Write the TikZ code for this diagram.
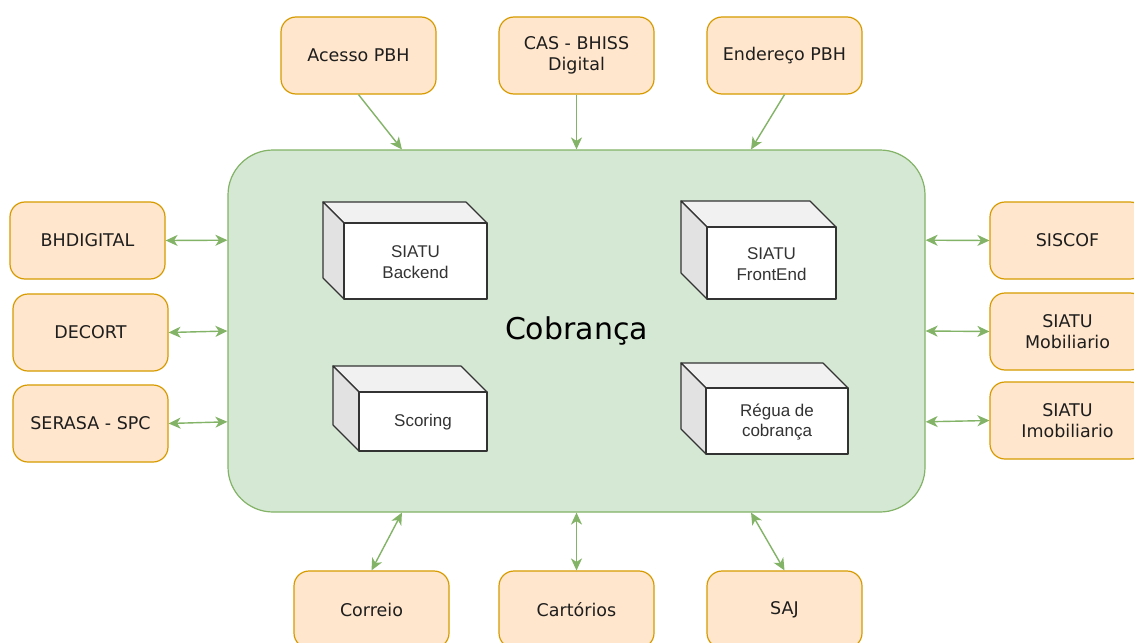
\documentclass[tikz,border=0pt]{standalone}
\usepackage{fontspec}
\setmainfont{DejaVu Sans}
\newfontfamily\arialf{Liberation Sans}
\usetikzlibrary{arrows.meta,calc}
\definecolor{orfill}{HTML}{FFE6CC}
\definecolor{ordraw}{HTML}{D79B00}
\definecolor{grfill}{HTML}{D5E8D4}
\definecolor{grdraw}{HTML}{82B366}
\definecolor{txt}{HTML}{1E1E1E}
\definecolor{cubetxt}{HTML}{333333}
\definecolor{cubeline}{HTML}{333333}
\definecolor{cubetop}{HTML}{F1F1F1}
\definecolor{cubeside}{HTML}{E2E2E2}
\tikzset{
  sysbox/.style={draw=ordraw, fill=orfill, line width=1.2pt, rounded corners=15pt,
    minimum width=155pt, minimum height=77pt, inner sep=0pt, text=txt, align=center,
    font=\fontsize{17.5}{21}\selectfont},
  mainbox/.style={draw=grdraw, fill=grfill, line width=1.2pt, rounded corners=45pt,
    minimum width=697pt, minimum height=362pt, inner sep=0pt, text=black,
    font=\fontsize{30}{36}\selectfont},
  arr/.style={draw=grdraw, line width=1.4pt, -{Stealth[length=12pt,width=11pt,inset=3.5pt]}},
  darr/.style={draw=grdraw, line width=1.4pt, {Stealth[length=12pt,width=11pt,inset=3.5pt]}-{Stealth[length=12pt,width=11pt,inset=3.5pt]}},
  cubeface/.style={draw=cubeline, line width=1.2pt, line join=round},
  cubetext/.style={text=cubetxt, align=center, inner sep=0pt, font=\arialf\fontsize{17}{20.5}\selectfont}
}
\newcommand\mycube[7]{%
  \filldraw[cubeface, fill=cubetop] (#2,#3) -- ({#2-#6},{#3-#6}) -- ({#4-#6},{#3-#6}) -- (#4,#3) -- cycle;
  \filldraw[cubeface, fill=cubeside] (#2,#3) -- ({#2-#6},{#3-#6}) -- ({#2-#6},{#5-#6}) -- (#2,#5) -- cycle;
  \filldraw[cubeface, fill=white] (#2,#3) rectangle (#4,#5);
  \node[cubetext] (#1) at ({(#2+#4)/2},{(#3+#5)/2+1}) {#7};
}
\begin{document}
\begin{tikzpicture}[x=1pt,y=-1pt]
\useasboundingbox (0,0) rectangle (1134,642);
\clip (0,0) rectangle (1134,642);
\fill[white] (0,0) rectangle (1134,642);

\node[mainbox] (main) at (576.5,331) {Cobrança};

% top
\node[sysbox] (acesso) at (358.5,55.5) {Acesso PBH};
\node[sysbox] (cas) at (576.5,55.5) {CAS - BHISS\\Digital};
\node[sysbox] (ender) at (784.5,55.5) {Endereço PBH};
% left
\node[sysbox] (bhd) at (87.5,240.5) {BHDIGITAL};
\node[sysbox] (decort) at (90.5,332.5) {DECORT};
\node[sysbox] (serasa) at (90.5,423.5) {SERASA - SPC};
% right
\node[sysbox] (siscof) at (1067.5,240.5) {SISCOF};
\node[sysbox] (mobil) at (1067.5,331.5) {SIATU\\Mobiliario};
\node[sysbox] (imobil) at (1067.5,420.5) {SIATU\\Imobiliario};
% bottom
\node[sysbox] (correio) at (371.5,609.5) {Correio};
\node[sysbox] (cart) at (576.5,609.5) {Cartórios};
\node[sysbox] (saj) at (784.5,609.5) {SAJ};

% cubes
\mycube{backend}{344}{223}{487}{299}{21}{SIATU\\Backend}
\mycube{frontend}{707}{227}{836}{299}{26}{SIATU\\FrontEnd}
\mycube{scoring}{359}{392}{487}{451}{26}{Scoring}
\mycube{regua}{706}{388}{848}{454}{25}{Régua de\\cobrança}

% connectors
\coordinate (mt1) at ($(main.north west)!0.25!(main.north east)$);
\coordinate (mt3) at ($(main.north west)!0.75!(main.north east)$);
\coordinate (mb1) at ($(main.south west)!0.25!(main.south east)$);
\coordinate (mb3) at ($(main.south west)!0.75!(main.south east)$);
\coordinate (ml1) at ($(main.north west)!0.25!(main.south west)$);
\coordinate (ml3) at ($(main.north west)!0.75!(main.south west)$);
\coordinate (mr1) at ($(main.north east)!0.25!(main.south east)$);
\coordinate (mr3) at ($(main.north east)!0.75!(main.south east)$);

\draw[arr] (acesso.south) -- (mt1);
\draw[arr] (cas.south) -- (main.north);
\draw[arr] (ender.south) -- (mt3);

\draw[darr] (bhd.east) -- (ml1);
\draw[darr] (decort.east) -- (main.west);
\draw[darr] (serasa.east) -- (ml3);

\draw[darr] (mr1) -- (siscof.west);
\draw[darr] (main.east) -- (mobil.west);
\draw[darr] (mr3) -- (imobil.west);

\draw[darr] (correio.north) -- (mb1);
\draw[darr] (cart.north) -- (main.south);
\draw[darr] (saj.north) -- (mb3);
\end{tikzpicture}
\end{document}
